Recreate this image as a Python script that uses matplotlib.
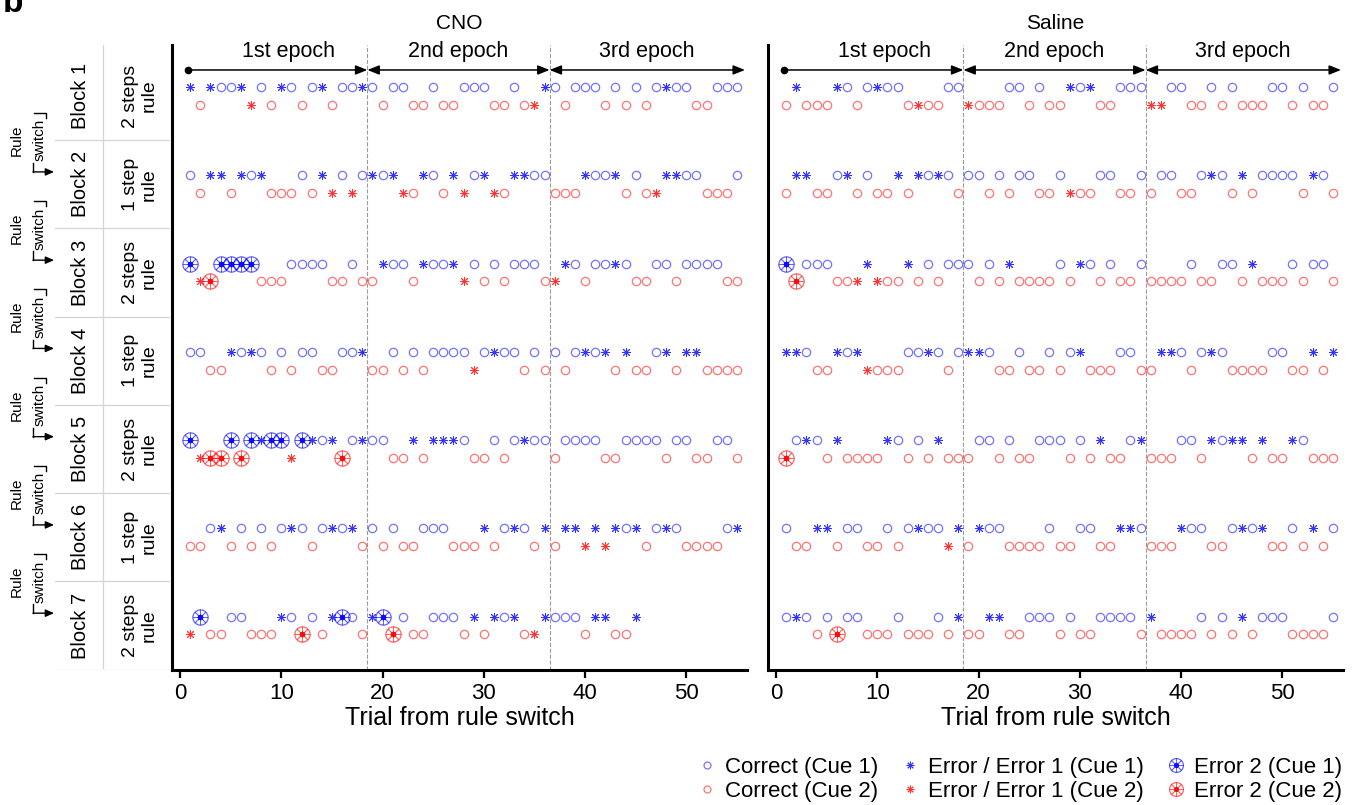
import matplotlib.pyplot as plt
from matplotlib.lines import Line2D
from matplotlib.legend_handler import HandlerTuple

plt.rcParams['font.family'] = ['Liberation Sans', 'DejaVu Sans']

# ---- labels ----
block_labels = ['Block 1', 'Block 2', 'Block 3', 'Block 4', 'Block 5', 'Block 6', 'Block 7']
rule_labels = ['2 steps\nrule', '1 step\nrule', '2 steps\nrule', '1 step\nrule',
               '2 steps\nrule', '1 step\nrule', '2 steps\nrule']
epoch_edges = [18.5, 36.5]
epoch_labels = ['1st epoch', '2nd epoch', '3rd epoch']
xticks = [0, 10, 20, 30, 40, 50]

# ---- CNO, trials per block (cue 1 = blue, cue 2 = red) ----
cno_cue1_correct = [
    [4, 5, 8, 11, 13, 16, 17, 19, 21, 22, 25, 28, 29, 30, 33, 37, 39, 40, 41, 43, 45, 47, 49, 50, 53, 54, 55],
    [1, 7, 12, 16, 18, 20, 25, 29, 35, 36, 41, 42, 45, 50, 51, 55],
    [11, 12, 13, 14, 17, 21, 22, 25, 26, 29, 31, 33, 34, 35, 39, 41, 42, 44, 47, 48, 50, 51, 52, 53],
    [1, 2, 6, 8, 10, 12, 13, 16, 17, 21, 23, 25, 26, 27, 28, 30, 32, 33, 35, 37, 39, 41, 47],
    [14, 17, 19, 20, 28, 31, 33, 35, 36, 38, 39, 40, 41, 44, 45, 46, 47, 49, 50, 53, 54],
    [3, 6, 8, 10, 12, 14, 16, 19, 21, 24, 25, 26, 32, 34, 44, 47, 49, 54],
    [5, 6, 11, 13, 17, 22, 25, 26, 27, 32, 37, 38, 39],
]
cno_cue1_error = [
    [1, 3, 6, 10, 14, 18, 36, 48],
    [3, 4, 6, 8, 14, 19, 21, 24, 27, 30, 33, 34, 40, 43, 48, 49],
    [20, 24, 27, 38, 43],
    [5, 7, 18, 31, 40, 42, 44, 48, 50, 51],
    [8, 13, 15, 18, 23, 25, 26, 27, 34],
    [4, 11, 15, 17, 30, 33, 36, 38, 39, 41, 43, 45, 48, 55],
    [10, 15, 19, 29, 31, 33, 36, 41, 42, 45],
]
cno_cue1_error2 = [[], [], [1, 4, 5, 6, 7], [], [1, 5, 7, 9, 10, 12], [], [2, 16, 20]]

cno_cue2_correct = [
    [2, 9, 12, 15, 20, 23, 24, 26, 27, 31, 32, 34, 38, 42, 44, 46, 51, 52],
    [2, 5, 9, 10, 11, 13, 23, 26, 32, 37, 38, 39, 44, 46, 52, 53, 54],
    [8, 9, 10, 15, 16, 18, 19, 23, 30, 32, 36, 40, 45, 46, 49, 54, 55],
    [3, 4, 9, 11, 14, 15, 19, 20, 22, 24, 34, 36, 38, 43, 45, 46, 49, 52, 53, 54, 55],
    [21, 22, 24, 29, 30, 32, 37, 42, 43, 48, 51, 52, 55],
    [1, 2, 5, 7, 9, 13, 18, 20, 22, 23, 27, 28, 29, 31, 35, 37, 46, 50, 51, 52, 53],
    [3, 4, 7, 8, 9, 14, 18, 23, 24, 28, 30, 34, 40, 43, 44],
]
cno_cue2_error = [
    [7, 35],
    [15, 17, 22, 28, 31, 47],
    [2, 28, 37],
    [29],
    [2, 11],
    [40, 42],
    [1, 35],
]
cno_cue2_error2 = [[], [], [3], [], [3, 4, 6, 16], [], [12, 21]]

# ---- Saline ----
sal_cue1_correct = [
    [7, 9, 11, 12, 17, 18, 23, 24, 26, 30, 34, 35, 36, 39, 40, 43, 45, 49, 50, 52, 55],
    [6, 9, 15, 17, 19, 20, 22, 24, 25, 28, 32, 33, 36, 38, 39, 42, 44, 48, 49, 50, 51, 54],
    [3, 4, 5, 15, 17, 18, 19, 21, 28, 31, 33, 36, 41, 44, 45, 51, 53, 54],
    [3, 7, 13, 14, 16, 18, 21, 24, 27, 29, 34, 35, 40, 42, 44, 49, 50],
    [2, 4, 12, 14, 20, 21, 23, 26, 27, 28, 30, 35, 40, 41, 44, 52],
    [1, 7, 8, 11, 13, 15, 16, 21, 22, 27, 30, 31, 36, 41, 42, 45, 47, 51, 55],
    [1, 3, 5, 7, 8, 12, 16, 25, 26, 27, 29, 32, 33, 34, 35, 42, 44, 48, 49, 50, 55],
]
sal_cue1_error = [
    [2, 6, 10, 29, 31],
    [2, 3, 7, 12, 14, 16, 43, 46, 53],
    [9, 13, 23, 30, 47],
    [1, 2, 6, 8, 15, 19, 20, 30, 38, 39, 43, 53, 55],
    [3, 6, 11, 16, 32, 36, 43, 45, 46, 48, 51],
    [4, 5, 14, 18, 20, 34, 35, 40, 46, 48, 53],
    [2, 18, 21, 22, 37, 46],
]
sal_cue1_error2 = [[], [], [1], [], [], [], []]

sal_cue2_correct = [
    [1, 3, 4, 5, 8, 13, 15, 16, 20, 21, 22, 25, 27, 28, 32, 33, 41, 42, 44, 46, 47, 48, 51, 53, 54],
    [1, 4, 5, 8, 10, 11, 13, 18, 21, 23, 26, 27, 30, 31, 34, 35, 37, 40, 41, 45, 47, 52, 55],
    [6, 7, 11, 12, 14, 16, 20, 22, 24, 25, 26, 27, 29, 32, 34, 35, 37, 38, 39, 40, 42, 43, 46, 48, 49, 50, 52, 55],
    [4, 5, 10, 11, 12, 17, 22, 23, 25, 26, 28, 31, 32, 33, 36, 37, 41, 45, 46, 47, 48, 51, 52, 54],
    [5, 7, 8, 9, 10, 13, 15, 17, 18, 19, 22, 24, 25, 29, 31, 33, 34, 37, 38, 39, 42, 47, 49, 50, 53, 54, 55],
    [2, 3, 6, 9, 10, 12, 19, 23, 24, 25, 26, 28, 29, 32, 33, 37, 38, 39, 43, 44, 49, 50, 52, 54],
    [4, 9, 10, 11, 13, 14, 15, 17, 19, 20, 23, 24, 28, 30, 31, 36, 38, 39, 40, 41, 43, 45, 47, 51, 52, 53, 54],
]
sal_cue2_error = [
    [14, 19, 37, 38],
    [29],
    [8, 10],
    [9],
    [],
    [17],
    [],
]
sal_cue2_error2 = [[], [], [2], [], [1], [], [6]]

BLUE = (0.0, 0.0, 1.0)
RED = (1.0, 0.0, 0.0)
AST = (8, 2, 0)  # 8-spoke asterisk like MATLAB '*'


def draw_cue(ax, correct, error, error2, offset, color):
    for i in range(len(correct)):
        y = i + 1 + offset
        c, e, e2 = correct[i], error[i], error2[i]
        ax.plot(c, [y] * len(c), ls='', marker='o', ms=6, mfc='none',
                mec=color, mew=0.9, alpha=0.55)
        ax.plot(e, [y] * len(e), ls='', marker=AST, ms=6.5, mec=color,
                mew=0.7, alpha=0.8)
        if e2:
            ax.plot(e2, [y] * len(e2), ls='', marker='o', ms=11, mfc='none',
                    mec=color, mew=0.9, alpha=0.6)
            ax.plot(e2, [y] * len(e2), ls='', marker=AST, ms=11, mec=color,
                    mew=0.6, alpha=0.6)
            ax.plot(e2, [y] * len(e2), ls='', marker=AST, ms=4, mec=color,
                    mew=1.0, alpha=0.9)


def draw_panel(ax, cue1, cue2, title):
    draw_cue(ax, *cue1, -0.1, BLUE)
    draw_cue(ax, *cue2, 0.1, RED)
    ax.set_xlim(-0.8, 56)
    ax.set_ylim(7.504, 0.422)
    for xe in epoch_edges:
        ax.axvline(xe, color='#9a9a9a', ls='--', lw=0.8, zorder=0)
    # epoch arrows
    ya = 0.705
    ax.plot([0.8], [ya], 'o', color='k', ms=4.5)
    ap = dict(arrowstyle='-|>,head_length=0.7,head_width=0.28', color='k',
              lw=1.1, shrinkA=0, shrinkB=0)
    ap2 = dict(ap, arrowstyle='<|-|>,head_length=0.7,head_width=0.28')
    ax.annotate('', xy=(epoch_edges[0], ya), xytext=(0.8, ya), arrowprops=ap)
    ax.annotate('', xy=(epoch_edges[1], ya), xytext=(epoch_edges[0], ya), arrowprops=ap2)
    ax.annotate('', xy=(55.8, ya), xytext=(epoch_edges[1], ya), arrowprops=ap2)
    for xm, lab in zip([10.7, 27.5, 46.1], epoch_labels):
        ax.text(xm, 0.49, lab, ha='center', va='center', fontsize=15.5)
    for s in ['top', 'right']:
        ax.spines[s].set_visible(False)
    for s in ['left', 'bottom']:
        ax.spines[s].set_linewidth(2.2)
    ax.set_yticks([])
    ax.set_xticks(xticks)
    ax.tick_params(axis='x', direction='out', length=6, width=1.6, labelsize=16, pad=3)
    ax.set_xlabel('Trial from rule switch', fontsize=18, labelpad=2)
    ax.text(0.5, 1.0 + 22 / 625, title, transform=ax.transAxes, ha='center',
            va='center', fontsize=15)


W, H = 1362, 805
fig = plt.figure(figsize=(W / 100, H / 100), dpi=100)
bottom = 1 - 670 / H
height = 625 / H
ax_cno = fig.add_axes([172 / W, bottom, 575 / W, height])
ax_sal = fig.add_axes([768 / W, bottom, 575 / W, height])

draw_panel(ax_cno, (cno_cue1_correct, cno_cue1_error, cno_cue1_error2),
           (cno_cue2_correct, cno_cue2_error, cno_cue2_error2), 'CNO')
draw_panel(ax_sal, (sal_cue1_correct, sal_cue1_error, sal_cue1_error2),
           (sal_cue2_correct, sal_cue2_error, sal_cue2_error2), 'Saline')

# ---- left label table ----
lab = fig.add_axes([0, bottom, 170 / W, height])
lab.set_xlim(0, 170)
lab.set_ylim(7.504, 0.422)
lab.axis('off')
grid_c = '#d4d4d4'
lab.plot([103, 103], [0.422, 7.48], color=grid_c, lw=0.9)
for i in range(len(block_labels)):
    y = i + 1
    lab.text(80, y, block_labels[i], rotation=90, ha='center', va='center', fontsize=14.5)
    lab.text(140, y, rule_labels[i], rotation=90, ha='center', va='center',
             fontsize=14, multialignment='center', linespacing=1.15)
    yb = y + 0.5
    lab.plot([55, 170], [yb, yb], color=grid_c, lw=0.9)
    if i < len(block_labels) - 1:
        lab.text(17, yb, 'Rule', rotation=90, ha='center', va='center', fontsize=11)
        lab.text(40, yb, 'switch', rotation=90, ha='center', va='center', fontsize=11)
        lab.plot([34, 46, 46], [yb - 0.31, yb - 0.31, yb - 0.25], color='k', lw=1.0)
        lab.plot([33, 33], [yb + 0.26, yb + 0.36], color='k', lw=1.0)
        lab.annotate('', xy=(54, yb + 0.36), xytext=(33, yb + 0.36),
                     arrowprops=dict(arrowstyle='-|>,head_length=0.5,head_width=0.22',
                                     color='k', lw=1.0, shrinkA=0, shrinkB=0))

fig.text(0.002, 1 - 12 / H, 'b', fontsize=24, fontweight='bold', ha='left', va='baseline')

# ---- legend ----
def mk(color, marker, ms, alpha, mew=0.9):
    return Line2D([], [], ls='', marker=marker, ms=ms, mfc='none', mec=color,
                  mew=mew, alpha=alpha)


h_c1 = mk(BLUE, 'o', 5, 0.55)
h_c2 = mk(RED, 'o', 5, 0.55)
h_e1 = mk(BLUE, AST, 5.5, 0.8, 0.7)
h_e1r = mk(RED, AST, 5.5, 0.8, 0.7)
h_e2 = (mk(BLUE, 'o', 10, 0.6), mk(BLUE, AST, 10, 0.6, 0.6), mk(BLUE, AST, 3.5, 0.9))
h_e2r = (mk(RED, 'o', 10, 0.6), mk(RED, AST, 10, 0.6, 0.6), mk(RED, AST, 3.5, 0.9))
fig.legend([h_c1, h_c2, h_e1, h_e1r, h_e2, h_e2r],
           ['Correct (Cue 1)', 'Correct (Cue 2)', 'Error / Error 1 (Cue 1)',
            'Error / Error 1 (Cue 2)', 'Error 2 (Cue 1)', 'Error 2 (Cue 2)'],
           ncol=3, loc='lower right', bbox_to_anchor=(1.0, -0.021), frameon=False,
           fontsize=16, handlelength=0.9, handletextpad=0.35, columnspacing=1.0,
           labelspacing=0.15, handler_map={tuple: HandlerTuple(ndivide=1, pad=0)})

fig.savefig('out.png', dpi=100)
